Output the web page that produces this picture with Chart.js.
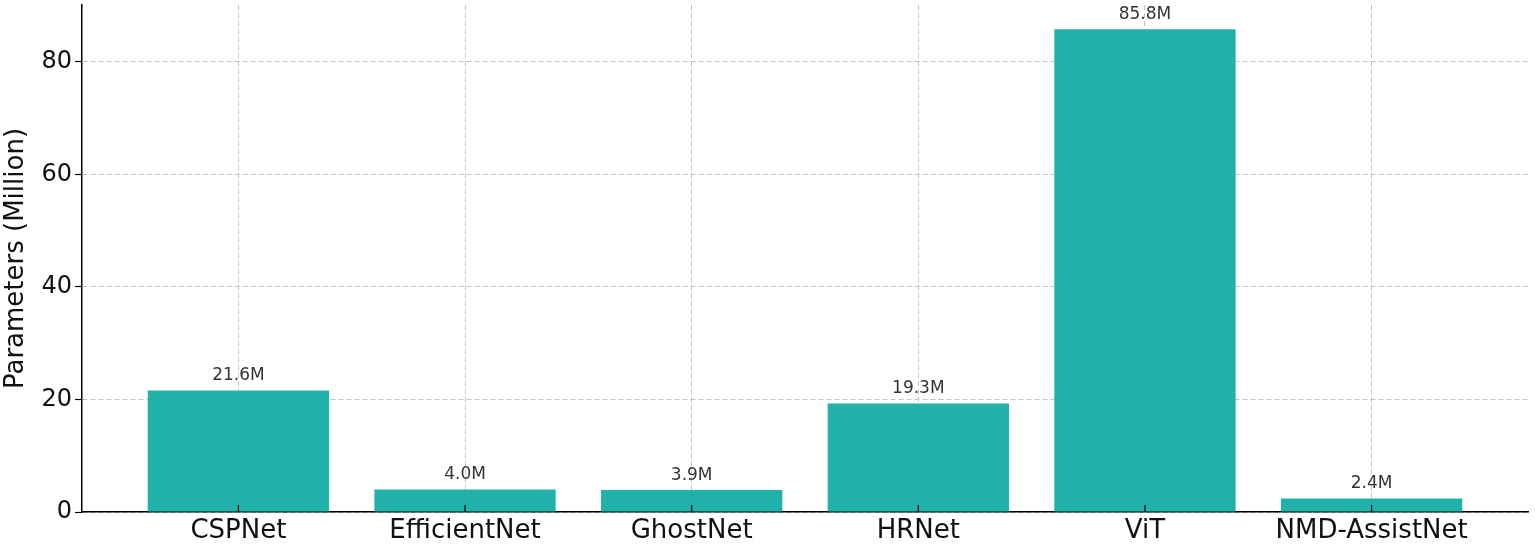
<!DOCTYPE html>
<html>
<head>
<meta charset="utf-8">
<script src="https://cdn.jsdelivr.net/npm/chart.js@4.4.1/dist/chart.umd.min.js"></script>
<style>
html,body{margin:0;padding:0;background:#fff;}
#wrap{width:1535px;height:547px;position:relative;}
</style>
</head>
<body>
<div id="wrap"><canvas id="c" width="1535" height="547"></canvas></div>
<script>
const categories = ["CSPNet", "EfficientNet", "GhostNet", "HRNet", "ViT", "NMD-AssistNet"];
const params = [21.6, 4.0, 3.9, 19.3, 85.8, 2.4];
const yTicks = [0, 20, 40, 60, 80];

const FONT = "'DejaVu Sans', sans-serif";
const gridColor = 'rgba(176,176,176,0.75)';

const valueLabels = {
  id: 'valueLabels',
  afterDatasetsDraw(chart) {
    const ctx = chart.ctx;
    const meta = chart.getDatasetMeta(0);
    ctx.save();
    ctx.font = "17px " + FONT;
    ctx.fillStyle = '#333';
    ctx.textAlign = 'center';
    ctx.textBaseline = 'bottom';
    meta.data.forEach((bar, i) => {
      ctx.fillText(params[i].toFixed(1) + 'M', bar.x, bar.y - 6);
    });
    ctx.restore();
  },
  afterDraw(chart) {
    const ctx = chart.ctx;
    const xs = chart.scales.x;
    ctx.save();
    ctx.strokeStyle = '#000';
    ctx.lineWidth = 1.2;
    xs.ticks.forEach(t => {
      const px = xs.getPixelForValue(t.value);
      ctx.beginPath();
      ctx.moveTo(px, xs.top);
      ctx.lineTo(px, xs.top - 7);
      ctx.stroke();
    });
    ctx.restore();
  }
};

new Chart(document.getElementById('c'), {
  type: 'bar',
  data: {
    datasets: [{
      data: params.map((v, i) => ({x: i, y: v})),
      backgroundColor: '#20B2AA',
      borderWidth: 0,
      barPercentage: 0.8,
      categoryPercentage: 1.0
    }]
  },
  options: {
    responsive: false,
    animation: false,
    devicePixelRatio: 1,
    layout: {padding: {left: 0, right: 7, top: 5, bottom: 0}},
    plugins: {legend: {display: false}, tooltip: {enabled: false}},
    scales: {
      x: {
        type: 'linear',
        offset: false,
        min: -0.69,
        max: categories.length - 1 + 0.69,
        z: 1,
        afterBuildTicks: s => { s.ticks = categories.map((_, i) => ({value: i})); },
        afterFit: s => { s.height = 35; s.paddingLeft = 0; s.paddingRight = 0; },
        ticks: {
          autoSkip: false,
          maxRotation: 0,
          padding: 4,
          color: '#111',
          font: {family: FONT, size: 26},
          callback: v => categories[v] !== undefined ? categories[v] : ''
        },
        grid: {
          offset: false,
          color: gridColor,
          lineWidth: 1,
          drawTicks: false,
          tickLength: 0
        },
        border: {display: true, color: '#000', width: 1.5, dash: [5, 3]}
      },
      y: {
        min: 0,
        max: 90.09,
        z: 1,
        afterBuildTicks: s => { s.ticks = yTicks.map(v => ({value: v})); },
        afterFit: s => { s.width = 82; s.paddingTop = 0; s.paddingBottom = 0; },
        ticks: {
          padding: 3,
          color: '#111',
          font: {family: FONT, size: 24}
        },
        grid: {
          color: gridColor,
          lineWidth: 1,
          drawTicks: true,
          tickLength: 7,
          tickColor: '#000',
          tickWidth: 1.2,
          tickBorderDash: []
        },
        border: {display: true, color: '#000', width: 1.5, dash: [5, 3]},
        title: {
          display: true,
          text: 'Parameters (Million)',
          color: '#111',
          font: {family: FONT, size: 26},
          padding: {top: 1, bottom: 0}
        }
      }
    }
  },
  plugins: [valueLabels]
});
</script>
</body>
</html>
